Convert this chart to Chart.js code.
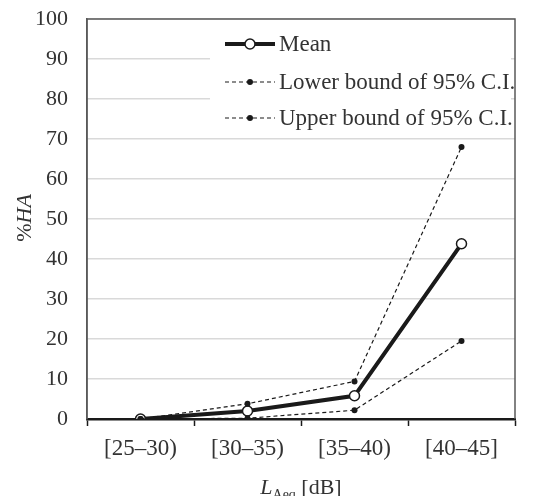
<!DOCTYPE html>
<html>
<head>
<meta charset="utf-8">
<script src="https://cdn.jsdelivr.net/npm/chart.js@4"></script>
<style>
  html, body { margin: 0; padding: 0; background: #fff; }
  #wrap { width: 534px; height: 496px; }
</style>
</head>
<body>
<div id="wrap"><canvas id="haChart"></canvas></div>
<script>
const categories = ['[25–30)', '[30–35)', '[35–40)', '[40–45]'];
const meanValues = [0, 2.0, 5.8, 43.8];
const lowerValues = [0, 0.2, 2.2, 19.5];
const upperValues = [0, 3.8, 9.4, 68.0];
const legendLabels = ['Mean', 'Lower bound of 95% C.I.', 'Upper bound of 95% C.I.'];

const FONT = '"Liberation Serif", "DejaVu Serif", serif';
const TEXT = '#333333';

// frame, legend box and the mixed-style axis titles
const extras = {
  id: 'extras',
  afterDatasetsDraw(chart) {
    const ctx = chart.ctx;
    const a = chart.chartArea;
    ctx.save();
    // legend
    const lx = a.left + 123, ly = a.top + 6;
    ctx.fillStyle = '#fff';
    ctx.fillRect(lx, ly, a.right - lx - 4, 102);
    const rows = [ly + 19, ly + 57, ly + 93];
    ctx.font = '23px ' + FONT;
    ctx.textBaseline = 'middle';
    rows.forEach((y, i) => {
      const x0 = lx + 15, x1 = lx + 65, xm = (x0 + x1) / 2;
      ctx.strokeStyle = '#1a1a1a';
      if (i === 0) {
        ctx.setLineDash([]);
        ctx.lineWidth = 4;
      } else {
        ctx.setLineDash([4, 3]);
        ctx.lineWidth = 1.2;
      }
      ctx.beginPath();
      ctx.moveTo(x0, y);
      ctx.lineTo(x1, y);
      ctx.stroke();
      ctx.setLineDash([]);
      ctx.beginPath();
      if (i === 0) {
        ctx.arc(xm, y, 5, 0, Math.PI * 2);
        ctx.fillStyle = '#fff';
        ctx.fill();
        ctx.lineWidth = 1.5;
        ctx.stroke();
      } else {
        ctx.arc(xm, y, 3, 0, Math.PI * 2);
        ctx.fillStyle = '#1a1a1a';
        ctx.fill();
      }
      ctx.fillStyle = TEXT;
      ctx.textAlign = 'left';
      ctx.fillText(legendLabels[i], x1 + 4, y + 1);
    });
    ctx.restore();
  },
  afterDraw(chart) {
    const ctx = chart.ctx;
    const a = chart.chartArea;
    ctx.save();
    // top and right frame
    ctx.strokeStyle = '#595959';
    ctx.lineWidth = 1.5;
    ctx.beginPath();
    ctx.moveTo(a.left, a.bottom);
    ctx.lineTo(a.left, a.top);
    ctx.lineTo(a.right, a.top);
    ctx.lineTo(a.right, a.bottom);
    ctx.stroke();
    // y title: %HA
    ctx.fillStyle = TEXT;
    ctx.translate(25, (a.top + a.bottom) / 2 - 1);
    ctx.rotate(-Math.PI / 2);
    ctx.textBaseline = 'middle';
    ctx.font = '22px ' + FONT;
    const w1 = ctx.measureText('%').width;
    ctx.font = 'italic 22px ' + FONT;
    const w2 = ctx.measureText('HA').width;
    let x = -(w1 + w2) / 2;
    ctx.textAlign = 'left';
    ctx.font = '22px ' + FONT;
    ctx.fillText('%', x, 0);
    ctx.font = 'italic 22px ' + FONT;
    ctx.fillText('HA', x + w1, 0);
    ctx.restore();
    // x title: L_Aeq [dB]
    ctx.save();
    ctx.fillStyle = TEXT;
    ctx.textBaseline = 'alphabetic';
    ctx.textAlign = 'left';
    const parts = [
      { t: 'L', f: 'italic 22px ' + FONT, dy: 0 },
      { t: 'Aeq', f: '14px ' + FONT, dy: 5 },
      { t: ' [dB]', f: '22px ' + FONT, dy: 0 }
    ];
    let total = 0;
    parts.forEach(p => { ctx.font = p.f; p.w = ctx.measureText(p.t).width; total += p.w; });
    let px = (a.left + a.right) / 2 - total / 2;
    const base = 494;
    parts.forEach(p => {
      ctx.font = p.f;
      ctx.fillText(p.t, px, base + p.dy);
      px += p.w;
    });
    ctx.restore();
  }
};

const ctx = document.getElementById('haChart');

new Chart(ctx, {
  type: 'line',
  data: {
    labels: categories,
    datasets: [
      {
        label: legendLabels[0],
        data: meanValues,
        borderColor: '#1a1a1a',
        borderWidth: 4,
        pointRadius: 5,
        pointBorderWidth: 1.5,
        pointBackgroundColor: '#ffffff',
        pointBorderColor: '#1a1a1a',
        tension: 0,
        order: 3
      },
      {
        label: legendLabels[1],
        data: lowerValues,
        borderColor: '#1a1a1a',
        borderWidth: 1.2,
        borderDash: [4, 3],
        pointRadius: 3,
        pointBorderWidth: 0,
        pointBackgroundColor: '#1a1a1a',
        tension: 0,
        order: 2
      },
      {
        label: legendLabels[2],
        data: upperValues,
        borderColor: '#1a1a1a',
        borderWidth: 1.2,
        borderDash: [4, 3],
        pointRadius: 3,
        pointBorderWidth: 0,
        pointBackgroundColor: '#1a1a1a',
        tension: 0,
        order: 1
      }
    ]
  },
  options: {
    responsive: true,
    maintainAspectRatio: false,
    animation: false,
    layout: { padding: { top: 19, right: 19, left: 0, bottom: 0 } },
    plugins: {
      legend: { display: false },
      tooltip: { enabled: false }
    },
    scales: {
      x: {
        offset: true,
        afterFit: s => { s.height = 77; },
        grid: {
          drawOnChartArea: false,
          drawTicks: true,
          tickLength: 7,
          tickWidth: 1.5,
          color: '#1a1a1a',
          offset: true
        },
        border: { color: '#1a1a1a', width: 2.5 },
        ticks: {
          padding: 9,
          color: TEXT,
          font: { family: FONT, size: 23 }
        }
      },
      y: {
        min: 0,
        max: 100,
        afterFit: s => { s.width = 87; },
        grid: {
          color: '#d9d9d9',
          lineWidth: 1.5,
          drawTicks: true,
          tickLength: 19,
          tickColor: 'rgba(0,0,0,0)'
        },
        border: { color: '#595959', width: 1.5 },
        ticks: {
          stepSize: 10,
          padding: 0,
          color: TEXT,
          font: { family: FONT, size: 22 }
        }
      }
    }
  },
  plugins: [extras]
});
</script>
</body>
</html>
